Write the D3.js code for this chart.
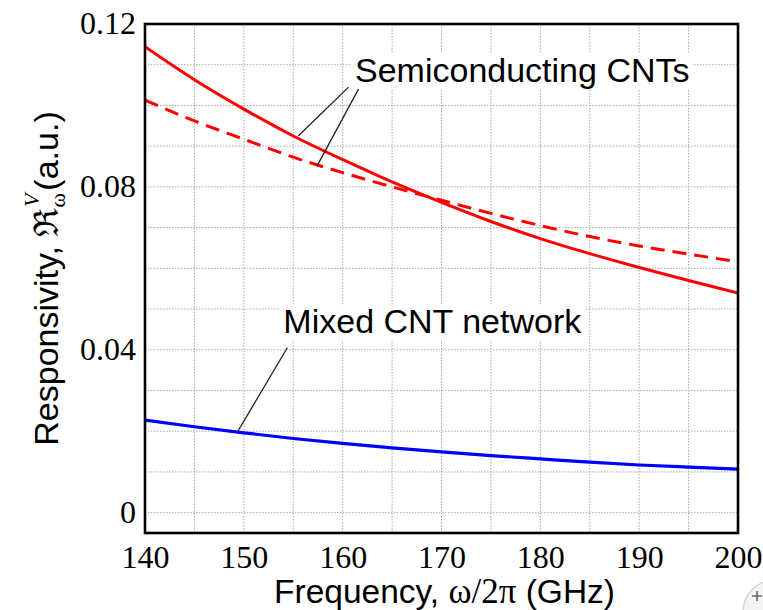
<!DOCTYPE html>
<html>
<head>
<meta charset="utf-8">
<script src="https://cdn.jsdelivr.net/npm/d3@7"></script>
<style>
  html, body { margin: 0; padding: 0; background: #fff; }
  svg { display: block; }
</style>
</head>
<body>
<svg id="chart" width="763" height="610"></svg>
<script>
// ---- data ----
const freq = [140, 145, 150, 155, 160, 165, 170, 175, 180, 185, 190, 195, 200];
const semiSolid  = [0.1144, 0.1063, 0.0991, 0.0925, 0.0867, 0.0812, 0.0762, 0.0715, 0.0673, 0.0636, 0.0602, 0.0570, 0.0539];
const semiDashed = [0.1013, 0.0962, 0.0917, 0.0873, 0.0835, 0.0800, 0.0767, 0.0735, 0.0705, 0.0678, 0.0655, 0.0635, 0.0616];
const mixed      = [0.0227, 0.0211, 0.0196, 0.0182, 0.0170, 0.0159, 0.0149, 0.0140, 0.0132, 0.0124, 0.0117, 0.0112, 0.0107];
const xTickLabels = [140, 150, 160, 170, 180, 190, 200];
const yTickLabels = [0, 0.04, 0.08, 0.12];
const xGrid = [145, 150, 155, 160, 165, 170, 175, 180, 185, 190, 195];
const yGrid = [0, 0.01, 0.02, 0.03, 0.04, 0.05, 0.06, 0.07, 0.08, 0.09, 0.10, 0.11];

// annotation anchors in data units
const semiLabel = { text: "Semiconducting CNTs", f: 161.25, v: 0.1058 };
const semiLeaders = [
  { f0: 160.6, v0: 0.1045, f1: 155.5, v1: 0.0925 },
  { f0: 161.6, v0: 0.1040, f1: 157.4, v1: 0.0851 }
];
const mixedLabel = { text: "Mixed CNT network", f: 154.0, v: 0.0441 };
const mixedLeaders = [ { f0: 154.4, v0: 0.0405, f1: 149.35, v1: 0.0198 } ];

// ---- layout ----
const svg = d3.select("#chart");
const L = 145, R = 738, T = 24, B = 533;
const x = d3.scaleLinear().domain([140, 200]).range([L, R]);
const y = d3.scaleLinear().domain([-0.005, 0.12]).range([B, T]);

const serif = "'Liberation Serif', 'Times New Roman', serif";
const sans = "'Liberation Sans', Arial, Helvetica, sans-serif";

// grid
const grid = svg.append("g");
grid.selectAll("line.vx").data(xGrid).enter().append("line")
  .attr("x1", d => x(d)).attr("x2", d => x(d)).attr("y1", T).attr("y2", B)
  .attr("stroke", "#a8a8a8").attr("stroke-width", 1).attr("stroke-dasharray", "1.5,1.5");
grid.selectAll("line.hy").data(yGrid).enter().append("line")
  .attr("x1", L).attr("x2", R).attr("y1", d => y(d)).attr("y2", d => y(d))
  .attr("stroke", "#a8a8a8").attr("stroke-width", 1).attr("stroke-dasharray", "1.5,1.5");

// curves
const line = d3.line().x(d => x(d[0])).y(d => y(d[1])).curve(d3.curveNatural);
svg.append("clipPath").attr("id", "clip").append("rect")
  .attr("x", L).attr("y", T).attr("width", R - L).attr("height", B - T);
const curves = svg.append("g").attr("clip-path", "url(#clip)");
curves.append("path").datum(d3.zip(freq, semiSolid)).attr("d", line)
  .attr("fill", "none").attr("stroke", "#ff0000").attr("stroke-width", 3);
curves.append("path").datum(d3.zip(freq, semiDashed)).attr("d", line)
  .attr("fill", "none").attr("stroke", "#ff0000").attr("stroke-width", 3)
  .attr("stroke-dasharray", "14,8");
curves.append("path").datum(d3.zip(freq, mixed)).attr("d", line)
  .attr("fill", "none").attr("stroke", "#0000ff").attr("stroke-width", 3.2);

// annotations
function label(obj) {
  const g = svg.append("g");
  const t = g.append("text").attr("x", x(obj.f)).attr("y", y(obj.v))
    .attr("font-family", sans).attr("font-size", 34).attr("fill", "#000").text(obj.text);
  const bb = t.node().getBBox();
  g.insert("rect", "text").attr("x", bb.x - 3).attr("y", bb.y + 2)
    .attr("width", bb.width + 6).attr("height", bb.height - 2).attr("fill", "#fff");
}
label(semiLabel);
label(mixedLabel);
svg.append("g").selectAll("line").data(semiLeaders.concat(mixedLeaders)).enter().append("line")
  .attr("x1", d => x(d.f0)).attr("y1", d => y(d.v0))
  .attr("x2", d => x(d.f1)).attr("y2", d => y(d.v1))
  .attr("stroke", "#222").attr("stroke-width", 1.3);

// frame
svg.append("rect").attr("x", L).attr("y", T).attr("width", R - L).attr("height", B - T)
  .attr("fill", "none").attr("stroke", "#000").attr("stroke-width", 2.6);

// axes tick labels
const xAxis = d3.axisBottom(x).tickValues(xTickLabels).tickSize(0).tickPadding(0).tickFormat(d3.format("d"));
const gx = svg.append("g").attr("transform", `translate(0,${B})`).call(xAxis);
gx.select(".domain").remove();
gx.selectAll("text").attr("font-family", serif).attr("font-size", 32).attr("fill", "#000")
  .attr("dy", null).attr("y", 35);

const yAxis = d3.axisLeft(y).tickValues(yTickLabels).tickSize(0).tickPadding(9)
  .tickFormat(d => d === 0 ? "0" : d3.format(".2f")(d));
const gy = svg.append("g").attr("transform", `translate(${L},0)`).call(yAxis);
gy.select(".domain").remove();
gy.selectAll("text").attr("font-family", serif).attr("font-size", 32).attr("fill", "#000")
  .attr("dy", "0.3em");

// axis titles
const xt = svg.append("text").attr("x", (L + R) / 2 + 3).attr("y", 603)
  .attr("text-anchor", "middle").attr("font-family", sans).attr("font-size", 33.5).attr("fill", "#000");
xt.append("tspan").text("Frequency, ");
xt.append("tspan").attr("font-family", serif).attr("font-size", 35).text("ω/2π");
xt.append("tspan").text(" (GHz)");

const yt = svg.append("text").attr("transform", `translate(58,${(T + B) / 2}) rotate(-90)`)
  .attr("text-anchor", "middle").attr("font-family", sans).attr("font-size", 34).attr("fill", "#000");
yt.append("tspan").text("Responsivity, ");
yt.append("tspan").attr("font-family", "'DejaVu Serif', serif").attr("font-size", 34).text("ℜ");
yt.append("tspan").attr("font-family", serif).attr("font-size", 22).attr("dy", 7).text("ω");
yt.append("tspan").attr("font-family", serif).attr("font-style", "italic").attr("font-size", 22)
  .attr("dx", -14).attr("dy", -26).text("V");
yt.append("tspan").attr("dy", 19).attr("dx", 3).text("(a.u.)");

// screenshot UI artifact (zoom button) at the bottom-right corner
const btn = svg.append("g");
btn.append("circle").attr("cx", 775).attr("cy", 612).attr("r", 32)
  .attr("fill", "#f4f4f4").attr("stroke", "#d6d6d6").attr("stroke-width", 1.5);
btn.append("path").attr("d", "M752,596 h10 M757,591 v10")
  .attr("stroke", "#666").attr("stroke-width", 1.6);
</script>
</body>
</html>
